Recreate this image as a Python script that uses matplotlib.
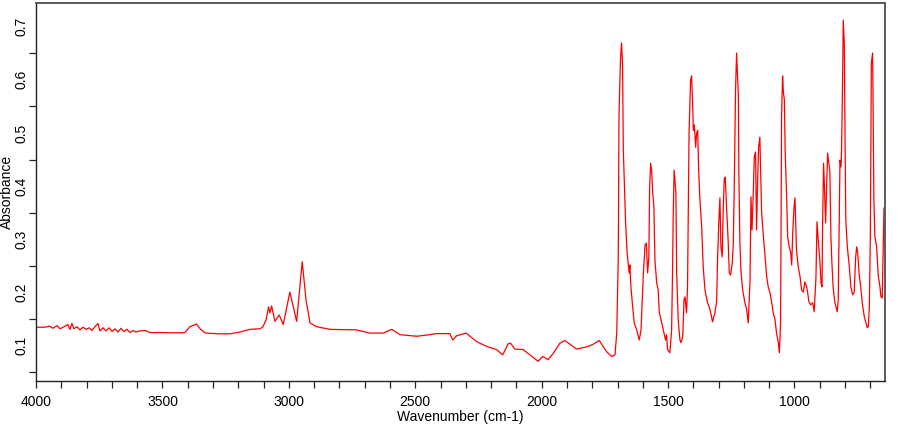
import matplotlib
matplotlib.use("Agg")
import matplotlib.pyplot as plt
from matplotlib.ticker import MultipleLocator, FixedLocator, FuncFormatter

plt.rcParams['font.family'] = ['Liberation Sans', 'DejaVu Sans']

# ---- data: wavenumber (cm-1) and absorbance ----
wn_high = [4000, 3964, 3945, 3933, 3917, 3905, 3889, 3874, 3866, 3858, 3850,
           3838, 3826, 3814, 3802, 3790, 3779, 3767, 3755, 3747, 3735, 3723,
           3711, 3699, 3688, 3676, 3664, 3652, 3640, 3628, 3616, 3605, 3589,
           3569, 3549, 3510, 3470, 3431, 3411, 3391, 3365, 3351, 3332, 3312,
           3272, 3233, 3193, 3154, 3114, 3102]
abs_high = [0.135, 0.135, 0.137, 0.133, 0.138, 0.132, 0.136, 0.140, 0.131, 0.142, 0.132,
            0.136, 0.130, 0.135, 0.131, 0.134, 0.129, 0.136, 0.142, 0.128, 0.134, 0.128,
            0.134, 0.127, 0.132, 0.126, 0.133, 0.127, 0.131, 0.125, 0.129, 0.126, 0.128,
            0.129, 0.125, 0.125, 0.1245, 0.1245, 0.125, 0.136, 0.141, 0.132, 0.1245, 0.1235,
            0.1226, 0.1226, 0.126, 0.131, 0.132, 0.136]

wn_ch = [3090, 3080, 3075, 3068, 3055, 3038, 3022, 2996, 2969, 2947, 2932,
         2916, 2890, 2837, 2732, 2679, 2626, 2593, 2560, 2494, 2442, 2415,
         2363, 2352, 2336, 2299, 2257, 2218, 2178, 2154, 2132, 2123, 2106,
         2073, 2046, 2014, 1996, 1974, 1954, 1928, 1908, 1862, 1822, 1796,
         1772, 1743, 1723]
abs_ch = [0.149, 0.173, 0.162, 0.175, 0.146, 0.158, 0.140, 0.201, 0.146, 0.258, 0.186,
          0.143, 0.136, 0.131, 0.130, 0.124, 0.124, 0.131, 0.121, 0.118, 0.121, 0.123,
          0.123, 0.111, 0.119, 0.124, 0.108, 0.099, 0.093, 0.083, 0.104, 0.105, 0.094,
          0.093, 0.083, 0.071, 0.080, 0.074, 0.086, 0.105, 0.110, 0.094, 0.098, 0.103,
          0.110, 0.089, 0.080]

wn_fp = [1710, 1703, 1697, 1694, 1688, 1684, 1680, 1677, 1673, 1668, 1662, 1654,
         1651, 1647, 1640, 1634, 1624, 1614, 1607, 1602, 1598, 1591, 1586, 1581,
         1576, 1573, 1569, 1565, 1561, 1556, 1552, 1545, 1539, 1535, 1525, 1516,
         1510, 1506, 1502, 1493, 1486, 1482, 1480, 1476, 1469, 1466, 1460, 1453,
         1449, 1442, 1437, 1433, 1427, 1423, 1417, 1411, 1407, 1403, 1400, 1396,
         1391, 1387, 1383, 1379, 1374, 1367, 1361, 1354, 1345, 1334, 1324, 1315,
         1308, 1304, 1299, 1295, 1291, 1286, 1282, 1278, 1274, 1268, 1262, 1258,
         1253, 1246, 1242, 1238, 1233, 1229, 1222, 1220, 1216, 1212, 1205, 1196,
         1189, 1183, 1176, 1172, 1168, 1163, 1159, 1154, 1150, 1146, 1142, 1137,
         1133, 1130, 1124, 1117, 1110, 1104, 1097, 1090, 1084, 1077, 1071, 1064,
         1060, 1055, 1051, 1047, 1044, 1040, 1037, 1031, 1027, 1021, 1015, 1011,
         1007, 1002, 998, 992, 985, 978, 972, 965, 959, 952, 948, 943, 936,
         928, 922, 915, 911, 906, 899, 895, 891, 889, 885, 881, 877, 873, 869,
         864, 860, 856, 852, 847, 840, 831, 827, 824, 820, 816, 814, 811, 807,
         803, 800, 797, 791, 783, 777, 770, 764, 758, 754, 750, 744, 738, 732,
         724, 717, 712, 708, 704, 700, 696, 691, 689, 686, 682, 675, 669, 662,
         658, 653, 649, 646]
abs_fp = [0.083, 0.124, 0.265, 0.537, 0.640, 0.669, 0.627, 0.468, 0.406, 0.331, 0.275, 0.237,
          0.252, 0.211, 0.173, 0.143, 0.130, 0.111, 0.130, 0.186, 0.233, 0.290, 0.293, 0.237,
          0.267, 0.397, 0.443, 0.430, 0.389, 0.361, 0.261, 0.218, 0.205, 0.164, 0.143, 0.124,
          0.111, 0.121, 0.093, 0.087, 0.130, 0.248, 0.336, 0.430, 0.387, 0.237, 0.149, 0.111,
          0.106, 0.117, 0.186, 0.192, 0.162, 0.211, 0.500, 0.599, 0.607, 0.556, 0.505, 0.515,
          0.473, 0.500, 0.505, 0.430, 0.374, 0.323, 0.248, 0.205, 0.183, 0.168, 0.145, 0.162,
          0.183, 0.267, 0.336, 0.378, 0.286, 0.267, 0.355, 0.412, 0.417, 0.355, 0.293, 0.237,
          0.233, 0.256, 0.293, 0.406, 0.584, 0.650, 0.571, 0.427, 0.295, 0.243, 0.205, 0.181,
          0.168, 0.143, 0.220, 0.380, 0.318, 0.387, 0.455, 0.464, 0.318, 0.406, 0.473, 0.492,
          0.406, 0.350, 0.312, 0.271, 0.230, 0.211, 0.200, 0.181, 0.162, 0.149, 0.124, 0.106,
          0.087, 0.143, 0.533, 0.607, 0.577, 0.562, 0.468, 0.380, 0.305, 0.286, 0.275, 0.252,
          0.312, 0.359, 0.378, 0.280, 0.248, 0.230, 0.205, 0.201, 0.220, 0.211, 0.200, 0.183, 0.177,
          0.181, 0.164, 0.230, 0.333, 0.299, 0.256, 0.218, 0.211, 0.323, 0.443, 0.393, 0.331, 0.398,
          0.462, 0.443, 0.427, 0.305, 0.256, 0.209, 0.181, 0.164, 0.186, 0.293, 0.449, 0.436, 0.464, 0.556,
          0.712, 0.669, 0.487, 0.336, 0.286, 0.248, 0.211, 0.196, 0.200, 0.267, 0.286, 0.275, 0.233, 0.211,
          0.181, 0.155, 0.143, 0.134, 0.136, 0.173, 0.305, 0.631, 0.650, 0.549, 0.374, 0.305, 0.286, 0.233,
          0.211, 0.192, 0.190, 0.286, 0.359]

wavenumber = wn_high + wn_ch + wn_fp
absorbance = abs_high + abs_ch + abs_fp

x_label = "Wavenumber (cm-1)"
y_label = "Absorbance"
x_ticks = [4000, 3500, 3000, 2500, 2000, 1500, 1000]
y_ticks = [0.1, 0.2, 0.3, 0.4, 0.5, 0.6, 0.7]

fig = plt.figure(figsize=(9, 4.25), dpi=100)
ax = fig.add_axes([36 / 900, 44 / 425, 849 / 900, 378 / 425])
ax.plot(wavenumber, absorbance, color='#ff0000', lw=0.9)

ax.set_xlim(4000, 642)
ax.set_ylim(0.034, 0.744)

ax.xaxis.set_major_locator(FixedLocator(x_ticks))
ax.xaxis.set_minor_locator(MultipleLocator(100))
ax.xaxis.set_major_formatter(FuncFormatter(lambda v, p: f"{int(v)}"))
ax.tick_params(axis='x', which='both', direction='out', length=5, width=0.9,
               color='#222222', labelsize=10, pad=5)

ax.yaxis.set_major_locator(FixedLocator(y_ticks))
ax.yaxis.set_minor_locator(FixedLocator([0.05, 0.15, 0.25, 0.35, 0.45, 0.55, 0.65]))
ax.yaxis.set_major_formatter(FuncFormatter(lambda v, p: f"{v:.1f}"))
ax.tick_params(axis='y', which='major', length=0, labelsize=10, pad=5.5,
               labelrotation=90)
ax.tick_params(axis='y', which='minor', direction='out', length=5, width=0.9,
               color='#222222')
for lbl in ax.get_yticklabels():
    lbl.set_va('center')

for side in ['left', 'bottom']:
    ax.spines[side].set_color('#222222')
    ax.spines[side].set_linewidth(1.0)
for side in ['top', 'right']:
    ax.spines[side].set_color('#5a5a5a')
    ax.spines[side].set_linewidth(1.4)

ax.set_xlabel(x_label, fontsize=10, labelpad=1)
ax.set_ylabel(y_label, fontsize=10)
ax.yaxis.set_label_coords(-0.0255, 0.5)

fig.savefig("out.png", dpi=100)
